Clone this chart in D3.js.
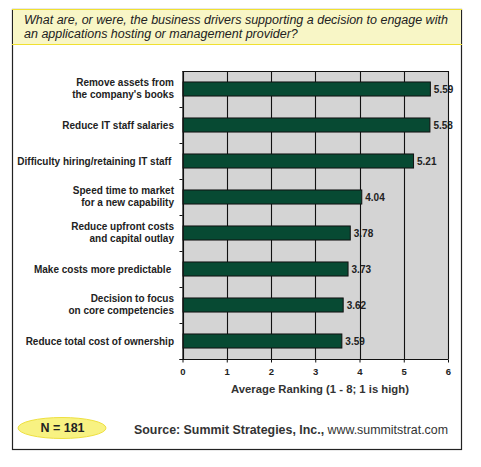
<!DOCTYPE html>
<html>
<head>
<meta charset="utf-8">
<script src="https://cdn.jsdelivr.net/npm/d3@7/dist/d3.min.js"></script>
<style>
  body { margin: 0; background: #fff; }
  svg { display: block; font-family: "Liberation Sans", Arial, sans-serif; }
</style>
</head>
<body>
<svg id="canvas" width="481" height="467"></svg>
<script>
// Chart data
var categories = [
  "Remove assets from\nthe company's books",
  "Reduce IT staff salaries",
  "Difficulty hiring/retaining IT staff\u00a0",
  "Speed time to market\nfor a new capability",
  "Reduce upfront costs\nand capital outlay",
  "Make costs more predictable\u00a0",
  "Decision to focus\non core competencies",
  "Reduce total cost of ownership"
];
var values = [5.59, 5.58, 5.21, 4.04, 3.78, 3.73, 3.62, 3.59];
var xTicks = [0, 1, 2, 3, 4, 5, 6];
var titleLines = [
  "What are, or were, the business drivers supporting a decision to engage with",
  "an applications hosting or management provider?"
];
var axisTitle = "Average Ranking (1 - 8; 1 is high)";
var sampleLabel = "N = 181";
var sourceBold = "Source: Summit Strategies, Inc.,";
var sourceUrl = " www.summitstrat.com";

var svg = d3.select('#canvas');

// Plot box
var plot = { left: 182.5, right: 448, top: 71, bottom: 359 };

var x = d3.scaleLinear().domain([0, 6]).range([plot.left, plot.right]);
var y = d3.scaleBand()
  .domain(categories)
  .range([plot.top, plot.bottom])
  .paddingInner(0.61)
  .paddingOuter(0.305);

// Outer frame
svg.append('rect')
  .attr('x', 12.5).attr('y', 9.5)
  .attr('width', 449).attr('height', 440)
  .attr('fill', '#fff')
  .attr('stroke', '#222')
  .attr('stroke-width', 1.2);

// Title band
svg.append('rect')
  .attr('x', 13).attr('y', 9)
  .attr('width', 448).attr('height', 36)
  .attr('fill', '#f8f6c6');
svg.selectAll('.title-rule')
  .data([9.5, 44.5])
  .enter().append('line')
  .attr('x1', 12).attr('x2', 462)
  .attr('y1', function (d) { return d; })
  .attr('y2', function (d) { return d; })
  .attr('stroke', '#f0e030')
  .attr('stroke-width', 1.2);

svg.append('text')
  .attr('x', 24).attr('y', 23.5)
  .attr('font-size', 12.5)
  .attr('font-style', 'italic')
  .attr('fill', '#222')
  .selectAll('tspan')
  .data(titleLines)
  .enter().append('tspan')
  .attr('x', 24)
  .attr('dy', function (d, i) { return i ? 14.5 : 0; })
  .text(function (d) { return d; });

// Plot background
svg.append('rect')
  .attr('x', plot.left).attr('y', plot.top)
  .attr('width', plot.right - plot.left)
  .attr('height', plot.bottom - plot.top)
  .attr('fill', '#d4d4d4');

// Value labels (gridlines are drawn over them, as in the original)
svg.append('g')
  .selectAll('text')
  .data(values)
  .enter().append('text')
  .attr('x', function (d) { return x(d) + 4; })
  .attr('y', function (d, i) { return y(categories[i]) + y.bandwidth() / 2; })
  .attr('dy', '0.35em')
  .attr('font-size', 10)
  .attr('font-weight', 'bold')
  .attr('fill', '#222')
  .text(function (d) { return d3.format('.2f')(d); });

// Vertical gridlines
svg.append('g')
  .selectAll('line')
  .data(xTicks)
  .enter().append('line')
  .attr('x1', function (d) { return Math.round(x(d)) + 0.5; })
  .attr('x2', function (d) { return Math.round(x(d)) + 0.5; })
  .attr('y1', plot.top)
  .attr('y2', plot.bottom)
  .attr('stroke', '#111')
  .attr('stroke-width', 1.1);

// Top border of the plot
svg.append('line')
  .attr('x1', plot.left).attr('x2', plot.right + 0.5)
  .attr('y1', plot.top + 0.5).attr('y2', plot.top + 0.5)
  .attr('stroke', '#111');

// Bars
svg.append('g')
  .selectAll('rect')
  .data(values)
  .enter().append('rect')
  .attr('x', x(0) + 0.5)
  .attr('y', function (d, i) { return y(categories[i]); })
  .attr('width', function (d) { return x(d) - x(0); })
  .attr('height', y.bandwidth())
  .attr('fill', '#074a33')
  .attr('stroke', '#111')
  .attr('stroke-width', 1);

// Category axis: ticks at row boundaries
var boundaries = d3.range(1, categories.length + 1).map(function (i) {
  return plot.top + i * y.step();
});
svg.append('g')
  .selectAll('line')
  .data(boundaries)
  .enter().append('line')
  .attr('x1', plot.left - 3).attr('x2', plot.left)
  .attr('y1', function (d) { return Math.round(d) + 0.5; })
  .attr('y2', function (d) { return Math.round(d) + 0.5; })
  .attr('stroke', '#111');

svg.append('line')
  .attr('x1', plot.left + 0.5).attr('x2', plot.left + 0.5)
  .attr('y1', plot.top).attr('y2', plot.bottom)
  .attr('stroke', '#111')
  .attr('stroke-width', 1.2);

// Category labels
var catLabels = svg.append('g')
  .selectAll('text')
  .data(categories)
  .enter().append('text')
  .attr('text-anchor', 'end')
  .attr('font-size', 10)
  .attr('font-weight', 'bold')
  .attr('fill', '#222')
  .attr('transform', function (d) {
    var lines = d.split('\n');
    var cy = y(d) + y.bandwidth() / 2 - (lines.length - 1) * 6.5;
    return 'translate(174,' + cy + ')';
  });

catLabels.selectAll('tspan')
  .data(function (d) { return d.split('\n'); })
  .enter().append('tspan')
  .attr('x', 0)
  .attr('y', function (d, i) { return i * 12; })
  .attr('dy', '0.35em')
  .text(function (d) { return d; });

// Bottom axis
var xAxis = d3.axisBottom(x)
  .tickValues(xTicks)
  .tickSize(3)
  .tickPadding(6)
  .tickFormat(d3.format('d'));

var axisG = svg.append('g')
  .attr('transform', 'translate(0,' + (plot.bottom + 0.5) + ')')
  .call(xAxis);
axisG.select('.domain')
  .attr('d', 'M' + (plot.left - 3) + ',0H' + (plot.right + 0.5))
  .attr('stroke', '#111')
  .attr('stroke-width', 1.2);
axisG.selectAll('.tick line').attr('stroke', '#111');
axisG.selectAll('.tick text')
  .attr('font-family', '"Liberation Sans", Arial, sans-serif')
  .attr('font-size', 9.5)
  .attr('font-weight', 'bold')
  .attr('fill', '#222');

svg.append('text')
  .attr('x', 320).attr('y', 393)
  .attr('text-anchor', 'middle')
  .attr('font-size', 11.3)
  .attr('font-weight', 'bold')
  .attr('fill', '#333')
  .text(axisTitle);

// Sample size badge
svg.append('ellipse')
  .attr('cx', 62).attr('cy', 428)
  .attr('rx', 44).attr('ry', 10.5)
  .attr('fill', '#f8f282')
  .attr('stroke', '#eee040')
  .attr('stroke-width', 1);
svg.append('text')
  .attr('x', 62.5).attr('y', 428)
  .attr('dy', '0.35em')
  .attr('text-anchor', 'middle')
  .attr('font-size', 12.5)
  .attr('font-weight', 'bold')
  .attr('fill', '#222')
  .text(sampleLabel);

// Source line
var src = svg.append('text')
  .attr('x', 448).attr('y', 434)
  .attr('text-anchor', 'end')
  .attr('font-size', 12.4)
  .attr('fill', '#333');
src.append('tspan').attr('font-weight', 'bold').text(sourceBold);
src.append('tspan').text(sourceUrl);
</script>
</body>
</html>
